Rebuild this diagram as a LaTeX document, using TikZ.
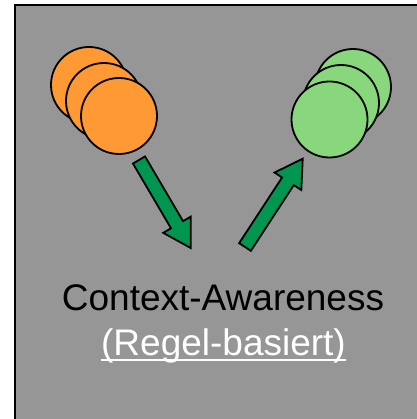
\documentclass[tikz,border=0pt]{standalone}
\usepackage{fontspec}
\setmainfont{Liberation Sans}
\usetikzlibrary{calc}
\definecolor{bg}{RGB}{150,150,150}
\definecolor{orng}{RGB}{255,153,51}
\definecolor{lgreen}{RGB}{137,215,125}
\definecolor{agreen}{RGB}{0,150,80}
\tikzset{
  ball/.style={circle, draw=black, line width=1.8pt, minimum size=76pt, inner sep=0pt},
  arr/.style={draw=black, fill=agreen, line width=1.8pt, line join=miter},
}
\newcommand\blockarrow[3]{%
  \coordinate (#3b) at ($(#2)!27pt!(#1)$);
  \draw[arr] ($(#1)!7pt!90:(#2)$) -- ($(#3b)!7pt!90:(#2)$) -- ($(#3b)!16pt!90:(#2)$) -- (#2)
    -- ($(#3b)!16pt!-90:(#2)$) -- ($(#3b)!7pt!-90:(#2)$) -- ($(#1)!7pt!-90:(#2)$) -- cycle;
}
\begin{document}
\begin{tikzpicture}[x=1pt,y=-1pt]
\useasboundingbox (0,0) rectangle (416,419);
\fill[white] (0,0) rectangle (416,419);
\draw[fill=bg, line width=2pt] (15,5) rectangle (430,430);
% orange stack
\node[ball, fill=orng] (o1) at (89,85) {};
\node[ball, fill=orng] (o2) at (104,101) {};
\node[ball, fill=orng] (o3) at (119,116) {};
% green stack
\node[ball, fill=lgreen] (g1) at (353,87) {};
\node[ball, fill=lgreen] (g2) at (341,103) {};
\node[ball, fill=lgreen] (g3) at (329.5,119.5) {};
% arrows
\coordinate (t1) at (139,160);
\coordinate (p1) at (190.7,248);
\blockarrow{t1}{p1}{a1}
\coordinate (t2) at (245,247);
\coordinate (p2) at (302.7,158.7);
\blockarrow{t2}{p2}{a2}
% text
\node[anchor=base, inner sep=0pt, font=\fontsize{37}{44}\selectfont] (ca) at (223,310) {Context-Awareness};
\node[anchor=base, inner sep=0pt, text=white, font=\fontsize{37}{44}\selectfont] (rb) at (223.5,355) {(Regel-basiert)};
\draw[white, line width=2pt] ([yshift=-5pt]rb.base west) -- ([yshift=-5pt]rb.base east);
\end{tikzpicture}
\end{document}
